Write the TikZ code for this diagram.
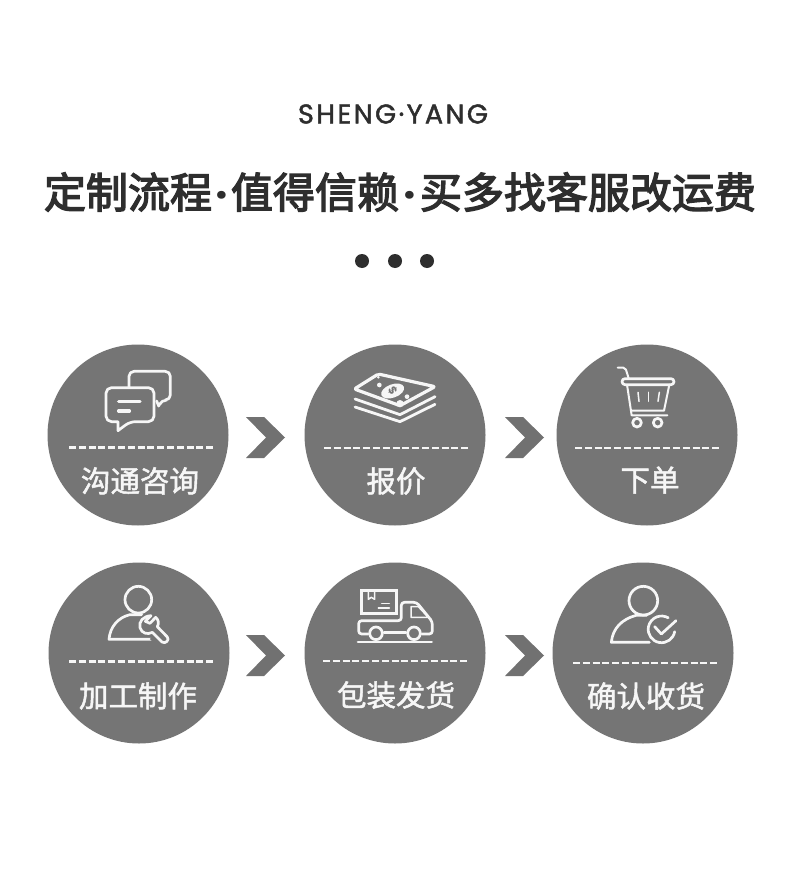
\documentclass[tikz,border=0pt]{standalone}
\usepackage{fontspec}
\newfontfamily\cjkfont[FakeBold=1.7]{Noto Sans CJK SC}
\newfontfamily\titlefont[FakeBold=3.2]{Noto Sans CJK SC}
\newfontfamily\latfont[FakeBold=1.7,LetterSpace=9]{Poppins}
\newfontfamily\dotfont{Poppins}
\definecolor{disc}{HTML}{757575}
\definecolor{chev}{HTML}{717171}
\definecolor{ink}{HTML}{2E2E2E}
\definecolor{pale}{HTML}{F6F6F6}
\tikzset{
  stepdisc/.style={circle,fill=disc,draw=none,minimum size=181pt,inner sep=0pt},
  steplabel/.style={text=pale,font=\cjkfont\fontsize{29.5pt}{32pt}\selectfont,inner sep=0pt},
  dashrule/.style={draw=pale,line width=2.2pt,dash pattern=on 6.9pt off 2.9pt},
  chevron/.style={fill=chev,draw=none},
  iconline/.style={draw=pale,line width=2.7pt,line cap=round,line join=round,fill=none},
  iconfine/.style={draw=pale,line width=1.5pt,line cap=round,line join=round,fill=none},
  iconbar/.style={draw=pale,line width=3.4pt,line cap=round},
}
\newcommand{\chevronat}[2]{\fill[chevron,shift={(#1,#2)}] (0,0) -- (18,0) -- (39,20.5) -- (18,41) -- (0,41) -- (20,20.5) -- cycle;}
\newcommand{\tdot}[1]{\makebox[#1][c]{\dotfont\bfseries ·}}
\begin{document}
\begin{tikzpicture}[x=1pt,y=-1pt]
\useasboundingbox[fill=white] (0,0) rectangle (790,869);
\node[text=ink,font=\latfont\fontsize{27pt}{28pt}\selectfont,inner sep=0pt] (brand) at (393,114) {SHENG·YANG};
\node[text=ink,font=\titlefont\fontsize{42pt}{48pt}\selectfont,inner sep=0pt] (title) at (400,192) {定制流程\tdot{19pt}值得信赖\tdot{21pt}买多找客服改运费};
\foreach \x in {362,395,427}
  \fill[fill=ink] (\x,261) circle (7);

\node[stepdisc] (s1) at (138,435) {};
\node[stepdisc] (s2) at (395,435) {};
\node[stepdisc] (s3) at (647,435) {};
\node[stepdisc] (s4) at (139,653) {};
\node[stepdisc] (s5) at (395,653) {};
\node[stepdisc] (s6) at (643,653) {};

\chevronat{246}{417}\chevronat{505}{417}
\chevronat{246}{635}\chevronat{505}{635}

\draw[dashrule] (69,447.5) -- (214,447.5);
\draw[dashrule] (324,448) -- (469,448);
\draw[dashrule] (575,448) -- (720,448);
\draw[dashrule] (69,661.5) -- (214,661.5);
\draw[dashrule] (323,661) -- (468,661);
\draw[dashrule] (573,663) -- (718,663);

\node[steplabel] (l1) at (140,481) {沟通咨询};
\node[steplabel] (l2) at (396,481) {报价};
\node[steplabel] (l3) at (650,480) {下单};
\node[steplabel] (l4) at (138,696) {加工制作};
\node[steplabel] (l5) at (396,695) {包装发货};
\node[steplabel] (l6) at (646,696) {确认收货};

% chat icon
\begin{scope}[shift={(40,340)},scale=1/3]
\draw[iconline,rounded corners=5.5pt] (260,143) -- (342,143) -- (342,245) -- (270,245) [sharp corners] -- (234,272) -- (234,245) [rounded corners=5.5pt] -- (198,245) -- (198,143) -- cycle;
\draw[iconline,rounded corners=5pt] (267,140) -- (267,94) -- (391,94) -- (391,180) -- (365,180) [sharp corners] -- (356,198) -- (350,183);
\draw[iconbar] (236,184) -- (300,184);
\draw[iconbar] (236,213) -- (268,213);
\end{scope}

% money icon
\begin{scope}[shift={(345,365)},scale=1/3]
\draw[iconline,line width=3.2pt,rounded corners=2pt] (28,72) -- (100,27) -- (270,65) -- (165,122) -- cycle;
\fill[pale,rotate around={20:(143,78)}] (143,78) ellipse (36 and 20);
\node[text=disc,font=\dotfont\bfseries\fontsize{11pt}{11pt}\selectfont,inner sep=0pt,rotate=-60] (dollar) at (143,78) {\$};
\fill[pale] (103,60) circle (7);
\fill[pale] (186,95) circle (7);
\fill[pale] (100,37) circle (4);
\fill[pale] (165,116) circle (11);
\draw[iconline,line width=2.8pt] (30,102) -- (165,149) -- (270,95);
\draw[iconline,line width=2.8pt] (30,126) -- (165,170) -- (270,118);
\end{scope}

% cart icon
\begin{scope}[shift={(550,340)},scale=1/3]
\draw[iconline,line width=2pt,rounded corners=2pt] (203,83) -- (226,83) -- (236,115);
\draw[iconline,rounded corners=3pt] (290,116) -- (372,116) -- (372,134) -- (216,134) -- (216,116) -- cycle;
\draw[iconline,line width=2pt] (231,134) -- (245,226) -- (352,226);
\draw[iconline,line width=2pt] (358,134) -- (342,212) -- (243,212);
\draw[iconfine] (264,157) -- (267,184);
\draw[iconfine] (296,157) -- (296,184);
\draw[iconfine] (328,157) -- (324,184);
\draw[iconline] (261,248) circle (13);
\draw[iconline] (323,248) circle (13);
\end{scope}

% person with wrench
\begin{scope}[shift={(40,560)},scale=1/3]
\draw[iconline] (295,119) circle (40);
\draw[iconline] (305,164) -- (270,164) .. controls (235,172) and (210,200) .. (207,238) -- (345,238);
\fill[disc] (325,195) circle (28);
\fill[disc,rotate around={45:(360,225)}] (330,212) rectangle (390,238);
\draw[iconline] (333,167) .. controls (310,168) and (295,185) .. (300,203) .. controls (305,220) and (322,225) .. (337,217) -- (366,246) .. controls (375,253) and (390,240) .. (382,231) -- (352,200) .. controls (358,190) and (355,178) .. (347,172) -- (330,190) -- (316,184) -- cycle;
\end{scope}

% truck icon
\begin{scope}[shift={(300,560)},scale=1/3]
\draw[iconline,line join=miter] (184,92) rectangle (290,161);
\draw[iconfine] (205,95) -- (205,118) -- (214,112) -- (224,118) -- (224,95);
\draw[iconfine] (245,131) -- (268,131);
\draw[iconfine] (235,144) -- (268,144);
\draw[iconline,rounded corners=3pt] (204,222) -- (176,222) -- (176,182) -- (304,182) -- (304,127) -- (350,127) -- (397,185) -- (397,222) -- (366,222);
\draw[iconfine] (333,140) -- (355,140) -- (385,172) -- (333,172) -- cycle;
\draw[iconline] (252,217) -- (318,217);
\draw[iconline] (228,220) circle (19);
\draw[iconline] (342,220) circle (19);
\draw[iconline] (174,246) -- (395,246);
\end{scope}

% person with check
\begin{scope}[shift={(550,560)},scale=1/3]
\draw[iconline] (280,122) circle (43);
\draw[iconline] (290,166) -- (258,166) .. controls (215,178) and (188,205) .. (184,247) -- (298,247);
\draw[iconline] (374,215) arc[start angle=10,end angle=300,radius=40];
\draw[iconline] (314,200) -- (334,222) -- (378,182);
\end{scope}
\end{tikzpicture}
\end{document}
